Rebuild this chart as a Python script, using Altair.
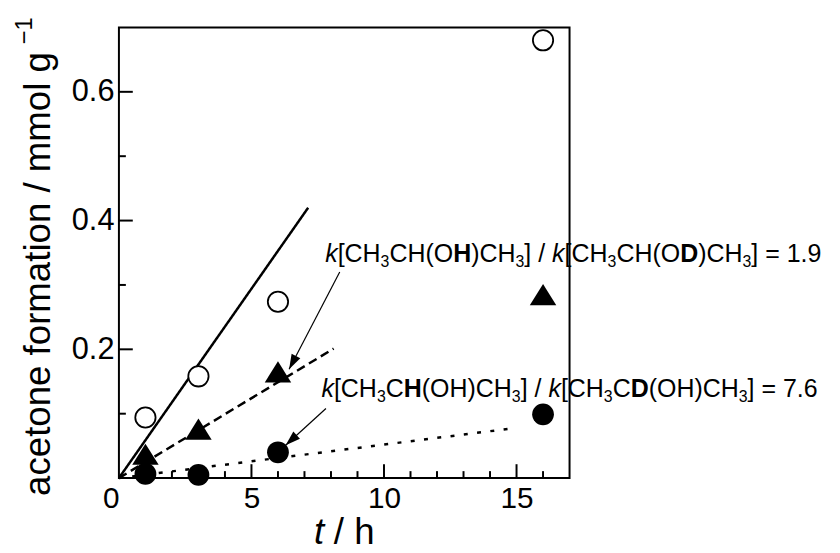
import math
import altair as alt
import pandas as pd

# ---------------- data ----------------
t_h = [1, 3, 6, 16]
oh_open = [0.094, 0.158, 0.274, 0.680]     # open circles
od_tri = [0.037, 0.076, 0.165, 0.285]      # filled triangles
cd_fill = [0.0065, 0.005, 0.040, 0.099]    # filled circles

fit_styles = ["solid", "dashed", "dotted"]
fit_x0 = [0, 0, 0]
fit_y0 = [0, 0, 0]
fit_x1 = [7.14, 8.1, 14.8]
fit_y1 = [0.42, 0.201, 0.077]

arrow_x0 = [8.33, 7.81]
arrow_y0 = [0.320, 0.108]
arrow_x1 = [6.42, 6.29]
arrow_y1 = [0.169, 0.051]

label_x = [7.78, 7.64]
label_y = [0.335, 0.126]
label_segments = [
    [("i", "k"), ("n", "[CH"), ("s", "3"), ("n", "CH(O"), ("b", "H"), ("n", ")CH"), ("s", "3"),
     ("n", "] / "), ("i", "k"), ("n", "[CH"), ("s", "3"), ("n", "CH(O"), ("b", "D"), ("n", ")CH"),
     ("s", "3"), ("n", "] = 1.9")],
    [("i", "k"), ("n", "[CH"), ("s", "3"), ("n", "C"), ("b", "H"), ("n", "(OH)CH"), ("s", "3"),
     ("n", "] / "), ("i", "k"), ("n", "[CH"), ("s", "3"), ("n", "C"), ("b", "D"), ("n", "(OH)CH"),
     ("s", "3"), ("n", "] = 7.6")],
]

x_tick_labels = [0, 5, 10, 15]
y_tick_labels = [0.2, 0.4, 0.6]
x_major = [5, 10, 15]
x_minor = [1, 2, 3, 4, 6, 7, 8, 9, 11, 12, 13, 14, 16]
y_major = [0.2, 0.4, 0.6]
y_minor = [0.1, 0.3, 0.5]

y_title = "acetone formation / mmol g"
y_title_sup = "\u22121"
x_title_it = "t"
x_title_rest = "/ h"

# ---------------- layout / style ----------------
W, H = 455, 455
XMAX, YMAX = 17, 0.7
FONT = "Liberation Sans"
FS_MAIN = 25.2
FS_SUB = 16
FS_TITLE = 37

ARIAL = {' ': 278, '[': 278, ']': 278, '(': 333, ')': 333, '/': 278, '=': 584, '.': 278,
         'C': 722, 'H': 722, 'O': 778, 'D': 722, 'k': 500}
for d in "0123456789":
    ARIAL[d] = 556


def text_width(txt, size):
    return sum(ARIAL.get(c, 556) for c in txt) * size / 1000.0


xs = alt.Scale(domain=[0, XMAX], nice=False, zero=False)
ys = alt.Scale(domain=[0, YMAX], nice=False, zero=False)
x_axis = alt.Axis(values=x_tick_labels, ticks=False, tickSize=0, domain=False, grid=False,
                  labelFontSize=30, labelFont=FONT, labelColor="black", labelPadding=6,
                  labelAlign={"condition": {"test": "datum.value == 0", "value": "right"},
                              "value": "center"},
                  title=None)
y_axis = alt.Axis(values=y_tick_labels, format=".1f", ticks=False, tickSize=0, domain=False,
                  grid=False, labelFontSize=31, labelFont=FONT, labelColor="black",
                  labelPadding=5, title=None)
X = alt.X("x:Q", scale=xs, axis=x_axis)
Y = alt.Y("y:Q", scale=ys, axis=y_axis)

# fit lines
fit_layers = []
dashes = {"solid": [1, 0], "dashed": [9, 5], "dotted": [4, 9.5]}
for name, a, b, c, d in zip(fit_styles, fit_x0, fit_y0, fit_x1, fit_y1):
    df = pd.DataFrame({"x": [a, c], "y": [b, d]})
    mk = alt.Chart(df).mark_line(color="black", strokeWidth=2.5,
                                 strokeDash=dashes[name]).encode(x=X, y=Y)
    fit_layers.append(mk)

# markers
df_open = pd.DataFrame({"x": t_h, "y": oh_open})
df_tri = pd.DataFrame({"x": t_h, "y": od_tri})
df_fill = pd.DataFrame({"x": t_h, "y": cd_fill})

open_pts = alt.Chart(df_open).mark_point(shape="circle", filled=False, fill="white",
                                         stroke="black", strokeWidth=1.8, size=420,
                                         opacity=1).encode(x=X, y=Y)
tri_pts = alt.Chart(df_tri).mark_point(shape="M0,-0.8L1,0.8L-1,0.8Z", filled=True,
                                       color="black", size=713, opacity=1).encode(x=X, y=Y)
fill_pts = alt.Chart(df_fill).mark_point(shape="circle", filled=True, color="black",
                                         size=484, opacity=1).encode(x=X, y=Y)

# arrows
angles = []
for a, b, c, d in zip(arrow_x0, arrow_y0, arrow_x1, arrow_y1):
    dxp = (c - a) * W / XMAX
    dyp = -(d - b) * H / YMAX
    angles.append(math.degrees(math.atan2(dxp, -dyp)) % 360)
df_arrow = pd.DataFrame({"x": arrow_x0, "y": arrow_y0, "x2": arrow_x1, "y2": arrow_y1})
df_head = pd.DataFrame({"x": arrow_x1, "y": arrow_y1, "ang": angles})
arrow_lines = alt.Chart(df_arrow).mark_rule(color="black", strokeWidth=1.2).encode(
    x=X, y=Y, x2="x2:Q", y2="y2:Q")
arrow_heads = alt.Chart(df_head).mark_point(shape="M0,0L-0.33,1L0.33,1Z", filled=True,
                                            color="black", size=900, opacity=1).encode(
    x=X, y=Y, angle=alt.Angle("ang:Q", scale=None))

# annotation text segments
rows = []
for ax, ay, segs in zip(label_x, label_y, label_segments):
    off = 0.0
    for style, txt in segs:
        rows.append({"style": style, "text": txt, "x": ax + off * XMAX / W, "y": ay})
        off += text_width(txt, FS_SUB if style == "s" else FS_MAIN)
seg_df = pd.DataFrame(rows)


def seg_layer(style, **props):
    return alt.Chart(seg_df[seg_df["style"] == style]).mark_text(
        align="left", baseline="alphabetic", font=FONT, color="black", **props
    ).encode(x=X, y=Y, text="text:N")


txt_n = seg_layer("n", fontSize=FS_MAIN)
txt_i = seg_layer("i", fontSize=FS_MAIN, fontStyle="italic")
txt_b = seg_layer("b", fontSize=FS_MAIN, fontWeight="bold")
txt_s = seg_layer("s", fontSize=FS_SUB, dy=5)

# inward ticks
def tick_df(vals, col):
    return pd.DataFrame({col: vals})

xt_major = alt.Chart(tick_df(x_major, "x")).mark_rule(color="black", strokeWidth=2).encode(
    x=X, y=alt.value(H), y2=alt.value(H - 14))
xt_minor = alt.Chart(tick_df(x_minor, "x")).mark_rule(color="black", strokeWidth=2).encode(
    x=X, y=alt.value(H), y2=alt.value(H - 7))
yt_major = alt.Chart(tick_df(y_major, "y")).mark_rule(color="black", strokeWidth=2).encode(
    y=Y, x=alt.value(0), x2=alt.value(14))
yt_minor = alt.Chart(tick_df(y_minor, "y")).mark_rule(color="black", strokeWidth=2).encode(
    y=Y, x=alt.value(0), x2=alt.value(7))

# axis titles
one = pd.DataFrame({"a": [0]})
ytitle = alt.Chart(one).mark_text(angle=270, align="left", baseline="alphabetic", font=FONT,
                                  fontSize=FS_TITLE, color="black").encode(
    x=alt.value(-70), y=alt.value(473), text=alt.value(y_title))
ytitle_sup = alt.Chart(one).mark_text(angle=270, align="left", baseline="alphabetic", font=FONT,
                                      fontSize=24, color="black").encode(
    x=alt.value(-88), y=alt.value(17), text=alt.value(y_title_sup))
xtitle_t = alt.Chart(one).mark_text(align="left", baseline="alphabetic", font=FONT,
                                    fontSize=FS_TITLE, fontStyle="italic", color="black").encode(
    x=alt.value(197), y=alt.value(522), text=alt.value(x_title_it))
xtitle_r = alt.Chart(one).mark_text(align="left", baseline="alphabetic", font=FONT,
                                    fontSize=FS_TITLE, color="black").encode(
    x=alt.value(197 + 20), y=alt.value(522), text=alt.value(x_title_rest))

chart = alt.layer(
    *fit_layers, xt_major, xt_minor, yt_major, yt_minor,
    arrow_lines, arrow_heads, open_pts, tri_pts, fill_pts,
    txt_n, txt_i, txt_b, txt_s, ytitle, ytitle_sup, xtitle_t, xtitle_r
).properties(
    width=W, height=H,
    autosize=alt.AutoSizeParams(type="none"),
    padding={"left": 112, "top": 17, "right": 265, "bottom": 71},
    background="white",
).configure_view(stroke="black", strokeWidth=2)

chart.save("out.html", embed_options={"renderer": "svg", "actions": False})
